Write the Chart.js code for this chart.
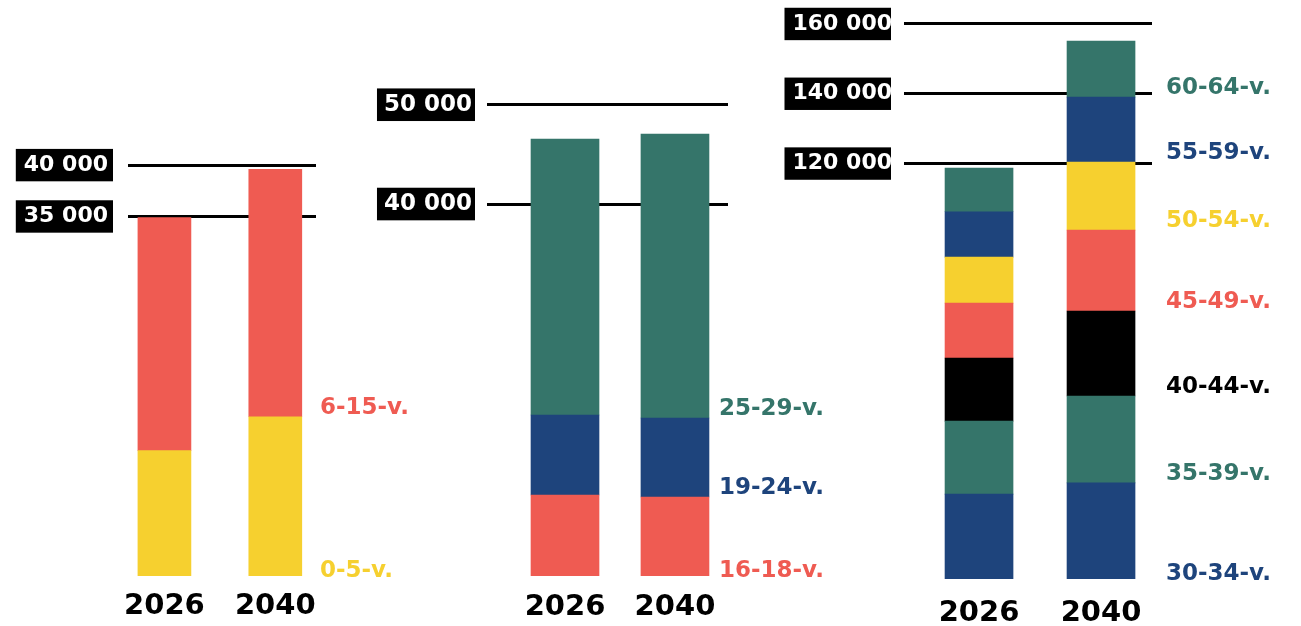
<!DOCTYPE html>
<html lang="fi">
<head>
<meta charset="UTF-8">
<title>Ikäryhmät 2026 ja 2040</title>
<script src="https://cdn.jsdelivr.net/npm/chart.js"></script>
<style>
  body { margin: 0; background: #fff; }
  canvas { position: absolute; top: 0; }
</style>
</head>
<body>
<canvas id="kids" width="430" height="626" style="left:0"></canvas>
<canvas id="young" width="480" height="626" style="left:360px"></canvas>
<canvas id="work" width="531" height="626" style="left:770px"></canvas>

<script>
const years = [2026, 2040];

// lapset
const kids05 = [12200, 15500];
const kids615 = [22700, 24100];
const kidsTicks = [35000, 40000];

// nuoret
const young1618 = [10700, 10500];
const young1924 = [8050, 7950];
const young2529 = [27800, 28600];
const youngTicks = [40000, 50000];

// työikäiset
const work3034 = [25300, 28500];
const work3539 = [20900, 24900];
const work4044 = [18050, 24350];
const work4549 = [15750, 23200];
const work5054 = [13200, 19500];
const work5559 = [13000, 18600];
const work6064 = [12500, 16050];
const workTicks = [120000, 140000, 160000];

const RED = '#EF5B52', YELLOW = '#F6D02F', GREEN = '#35756A', BLUE = '#1E447C', BLACK = '#000000';
const FONT = '"DejaVu Sans", sans-serif';

// age group names next to the 2040 bar, at the bottom of each segment
const segmentLabels = {
  id: 'segmentLabels',
  afterDatasetsDraw(chart, args, opts) {
    const { ctx, chartArea } = chart;
    ctx.save();
    ctx.font = 'bold ' + opts.size + 'px ' + FONT;
    ctx.textBaseline = 'middle';
    ctx.textAlign = 'left';
    chart.data.datasets.forEach((ds, i) => {
      const bar = chart.getDatasetMeta(i).data[1];
      const y = bar.base < chartArea.bottom - 1 ? bar.base - 9 : chartArea.bottom - 5;
      ctx.fillStyle = ds.backgroundColor;
      ctx.fillText(ds.label, chartArea.right + opts.dx, y);
    });
    ctx.restore();
  }
};

function makeChart(id, c) {
  new Chart(document.getElementById(id), {
    type: 'bar',
    data: {
      datasets: c.series.map(s => ({
        label: s[0],
        data: years.map((yr, i) => ({ x: yr, y: s[1][i] })),
        backgroundColor: s[2],
        barThickness: c.barWidth,
        clip: 0
      }))
    },
    options: {
      responsive: false,
      animation: false,
      layout: { padding: { top: 10, right: c.padRight, left: 0, bottom: 0 } },
      plugins: {
        legend: { display: false },
        tooltip: { enabled: false },
        segmentLabels: { size: c.labelSize, dx: c.labelDx }
      },
      scales: {
        x: {
          type: 'linear',
          stacked: true,
          offset: false,
          min: c.xMin,
          max: c.xMax,
          afterBuildTicks: s => { s.ticks = years.map(v => ({ value: v })); },
          afterFit: s => { s.height = c.xAxisHeight; s.paddingLeft = 0; s.paddingRight = 0; },
          grid: { display: false, offset: false },
          border: { display: false },
          ticks: {
            callback: v => String(v),
            autoSkip: false,
            maxRotation: 0,
            color: '#000',
            padding: c.xPad,
            font: { family: FONT, size: 29, weight: 'bold' }
          }
        },
        y: {
          stacked: true,
          min: c.yMin,
          max: c.yMax,
          z: 1,
          afterBuildTicks: s => { s.ticks = c.ticks.map(v => ({ value: v })); },
          afterFit: s => { s.width = c.yAxisWidth; s.paddingTop = 0; s.paddingBottom = 0; },
          grid: { color: '#000', lineWidth: 3, drawTicks: false },
          border: { display: false },
          ticks: {
            callback: v => String(v).replace(/\B(?=(\d{3})+(?!\d))/g, ' '),
            color: '#fff',
            padding: c.yPad,
            font: { family: FONT, size: c.tickSize, weight: 'bold' },
            showLabelBackdrop: true,
            backdropColor: '#000',
            backdropPadding: c.backdrop
          }
        }
      }
    },
    plugins: [segmentLabels]
  });
}

makeChart('kids', {
  series: [['0-5-v.', kids05, YELLOW], ['6-15-v.', kids615, RED]],
  ticks: kidsTicks,
  yMin: 0, yMax: 55100,
  xMin: 2021.4, xMax: 2045.14,
  barWidth: 53,
  yAxisWidth: 128, padRight: 114, xAxisHeight: 50,
  yPad: 20, tickSize: 22, backdrop: { left: 8, right: 5, top: 3, bottom: 3 },
  xPad: 5, labelSize: 23, labelDx: 4
});

makeChart('young', {
  series: [['16-18-v.', young1618, RED], ['19-24-v.', young1924, BLUE], ['25-29-v.', young2529, GREEN]],
  ticks: youngTicks,
  yMin: 2540, yMax: 59540,
  xMin: 2016.07, xMax: 2046.75,
  barWidth: 68,
  yAxisWidth: 127, padRight: 112, xAxisHeight: 50,
  yPad: 15, tickSize: 23, backdrop: { left: 7, right: 3, top: 2.5, bottom: 2.5 },
  xPad: 6, labelSize: 23, labelDx: -9
});

makeChart('work', {
  series: [['30-34-v.', work3034, BLUE], ['35-39-v.', work3539, GREEN], ['40-44-v.', work4044, BLACK],
           ['45-49-v.', work4549, RED], ['50-54-v.', work5054, YELLOW], ['55-59-v.', work5559, BLUE],
           ['60-64-v.', work6064, GREEN]],
  ticks: workTicks,
  yMin: 970, yMax: 164000,
  xMin: 2017.39, xMax: 2045.85,
  barWidth: 68,
  yAxisWidth: 134, padRight: 149, xAxisHeight: 47,
  yPad: 12, tickSize: 22, backdrop: { left: 8, right: -1, top: 3, bottom: 3 },
  xPad: 9, labelSize: 23, labelDx: 14
});
</script>
</body>
</html>
